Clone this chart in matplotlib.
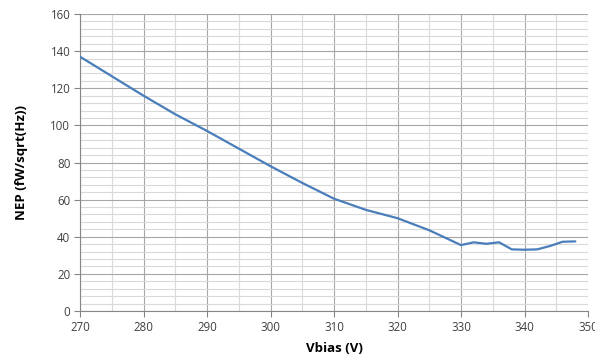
import matplotlib.pyplot as plt
from matplotlib.ticker import MultipleLocator

# Données
vbias = [270, 275, 280, 285, 290, 295, 300, 305, 310, 315, 320, 325,
         330, 332, 334, 336, 338, 340, 342, 344, 346, 348]
nep = [137, 126.5, 116, 106, 97, 87.5, 78, 69, 60.5, 54.5, 50, 43.5,
       35.5, 37, 36.2, 37, 33.2, 33, 33.2, 35, 37.3, 37.5]

plt.rcParams['font.family'] = ['Open Sans', 'DejaVu Sans']

fig = plt.figure(figsize=(5.95, 3.58), dpi=100)
ax = fig.add_axes([80/595, 1 - 311/358, 508/595, 297/358])

ax.plot(vbias, nep, color='#4a7ebb', linewidth=1.6, solid_capstyle='round', zorder=3)

ax.set_xlim(270, 350)
ax.set_ylim(0, 160)
ax.xaxis.set_major_locator(MultipleLocator(10))
ax.xaxis.set_minor_locator(MultipleLocator(5))
ax.yaxis.set_major_locator(MultipleLocator(20))
ax.yaxis.set_minor_locator(MultipleLocator(4))

ax.grid(True, which='major', color='#a6a6a6', linewidth=0.8)
ax.grid(True, which='minor', color='#d9d9d9', linewidth=0.8)
ax.set_axisbelow(True)

for s in ['top', 'right']:
    ax.spines[s].set_visible(False)
for s in ['left', 'bottom']:
    ax.spines[s].set_color('#868686')
    ax.spines[s].set_linewidth(0.8)

ax.tick_params(which='major', direction='out', length=4, color='#868686',
               labelsize=8.3, labelcolor='#404040', pad=3)
ax.tick_params(which='minor', length=0)

ax.set_xlabel('Vbias (V)', fontsize=9.5, fontweight='bold', labelpad=6)
ax.set_ylabel('NEP (fW/sqrt(Hz))', fontsize=9.5, fontweight='bold', labelpad=16)

fig.savefig('out.png', dpi=100)
